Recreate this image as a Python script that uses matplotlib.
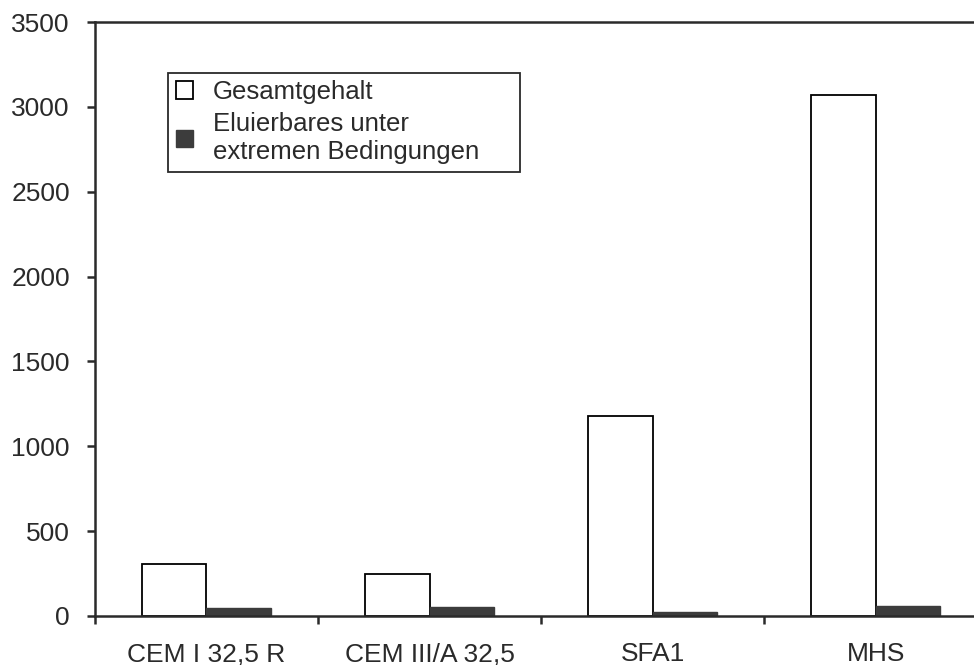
import matplotlib
matplotlib.use("Agg")
import matplotlib.pyplot as plt
import numpy as np
from matplotlib.ticker import FixedLocator, NullFormatter, FixedFormatter

plt.rcParams['font.family'] = ['Liberation Sans', 'DejaVu Sans']

# Zement- und Aschenproben
categories = ['CEM I 32,5 R', 'CEM III/A 32,5', 'SFA1', 'MHS']
gesamtgehalt = [306, 247, 1178, 3070]
eluierbar = [45, 55, 22, 61]
series_labels = ['Gesamtgehalt', 'Eluierbares unter\nextremen Bedingungen']
y_ticks = [0, 500, 1000, 1500, 2000, 2500, 3000, 3500]

ink = '#2a2a2a'
dark = '#3c3c3c'

fig = plt.figure(figsize=(9.74, 6.65), dpi=100)
ax = fig.add_axes([0.0975, 0.0737, 0.916, 0.893])

x = np.arange(len(categories))
w = 0.29
ax.bar(x - w / 2, gesamtgehalt, w, color='white', edgecolor='black',
       linewidth=1.3, label=series_labels[0], zorder=2)
ax.bar(x + w / 2, eluierbar, w, color=dark, edgecolor=dark,
       linewidth=1.0, label=series_labels[1], zorder=2)

ax.set_xlim(-0.5, len(categories) - 0.5)
ax.set_ylim(0, 3500)
ax.set_yticks(y_ticks)

# tick marks between groups, labels centred under each group
ax.xaxis.set_major_locator(FixedLocator(np.arange(len(categories) + 1) - 0.5))
ax.xaxis.set_major_formatter(NullFormatter())
ax.xaxis.set_minor_locator(FixedLocator(x))
ax.xaxis.set_minor_formatter(FixedFormatter(categories))
ax.tick_params(axis='x', which='major', direction='out', length=6, width=1.8, color=ink)
ax.tick_params(axis='x', which='minor', length=0, pad=19, labelsize=19, labelcolor=ink)
ax.tick_params(axis='y', direction='out', length=6, width=1.8, color=ink,
               pad=12, labelsize=19, labelcolor=ink)

for side in ['left', 'bottom', 'top', 'right']:
    ax.spines[side].set_color(ink)
    ax.spines[side].set_linewidth(1.8)

# legend box stretched to a fixed width
leg = ax.legend(loc='upper left', bbox_to_anchor=(0.082, 0.915, 0.394, 0.0),
                mode='expand', borderaxespad=0,
                fontsize=18.5, frameon=True, fancybox=False, framealpha=1,
                handlelength=0.68, handleheight=0.68, handletextpad=0.75,
                borderpad=0.3, labelspacing=0.3, labelcolor=ink)
leg.get_frame().set_edgecolor(ink)
leg.get_frame().set_linewidth(1.3)

fig.savefig('out.png', dpi=100)
